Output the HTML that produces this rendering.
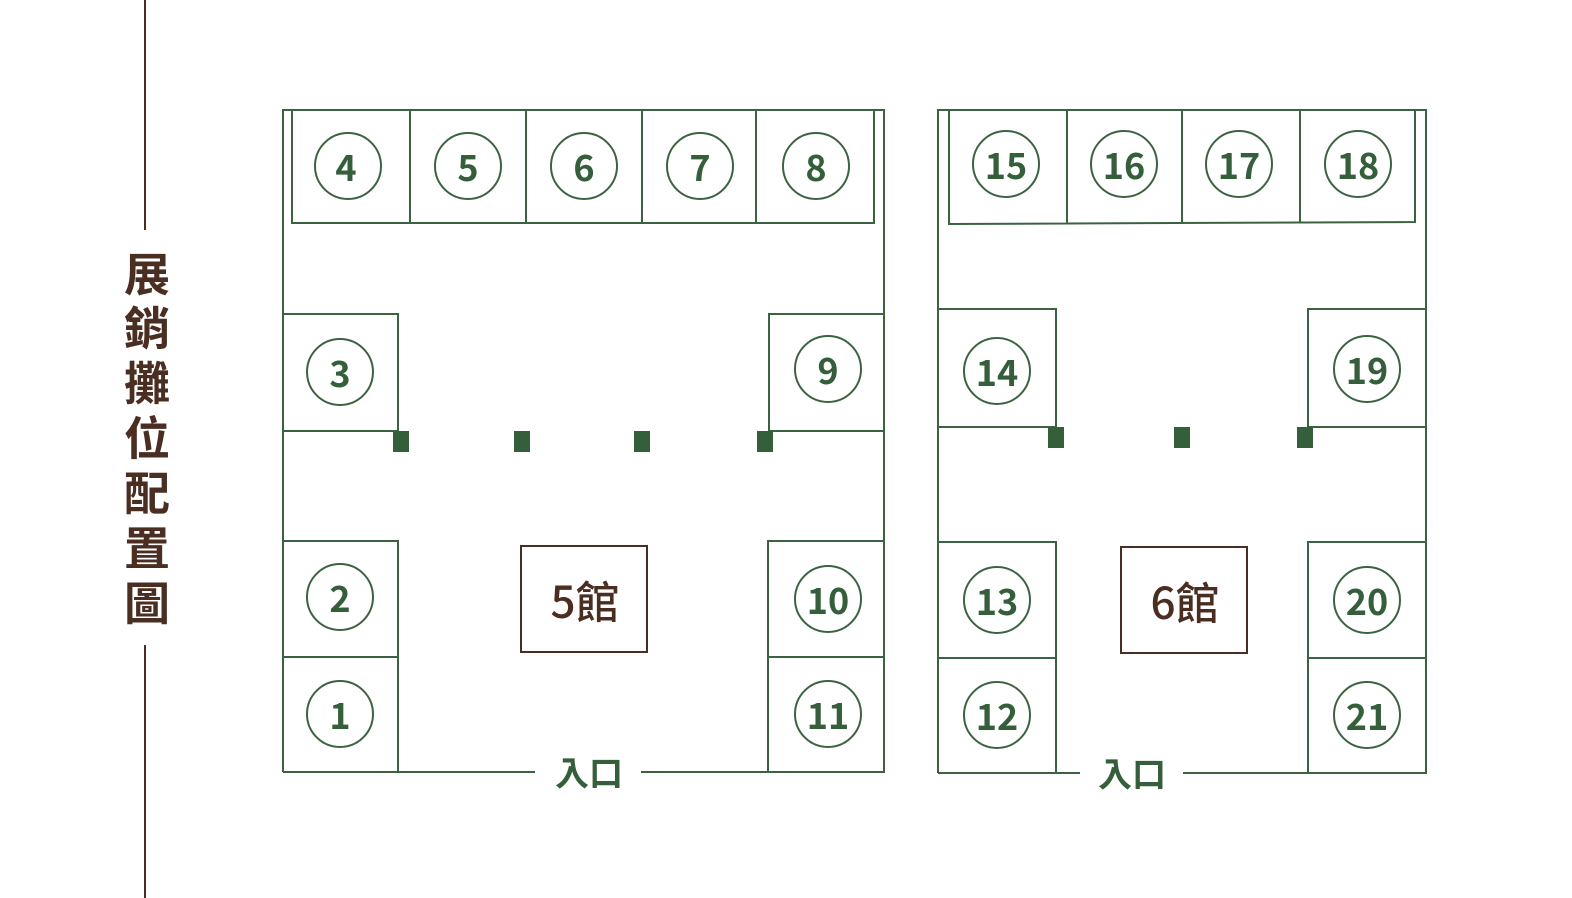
<!DOCTYPE html>
<html><head><meta charset="utf-8"><style>
html,body{margin:0;padding:0;background:#fff;overflow:hidden}
svg{display:block}
.l{stroke:#3b6341;stroke-width:2;fill:none}
.c{stroke:#3b6341;stroke-width:2;fill:#fff}
.n{font-family:"Noto Sans CJK TC","Liberation Sans",sans-serif;font-weight:bold;font-size:36px;fill:#355e3a;text-anchor:middle;dominant-baseline:central}
.t{font-family:"Noto Sans CJK TC","WenQuanYi Zen Hei",sans-serif;font-weight:bold;font-size:46px;fill:#4a2e22;text-anchor:middle;dominant-baseline:central}
.h{font-family:"Noto Sans CJK TC","Liberation Sans",sans-serif;font-size:44px;font-weight:500;fill:#4a2e22;text-anchor:middle;dominant-baseline:central}
.e{font-family:"Noto Sans CJK TC","WenQuanYi Zen Hei",sans-serif;font-weight:bold;font-size:34px;fill:#355e3a;text-anchor:middle;dominant-baseline:central}
.sq{fill:#355e3a}
</style></head><body>
<svg width="1572" height="898" viewBox="0 0 1572 898">
<line x1="145" y1="0" x2="145" y2="230" stroke="#4a2e22" stroke-width="2"/>
<line x1="145" y1="645" x2="145" y2="898" stroke="#4a2e22" stroke-width="2"/>
<text class="t" x="147" y="272">展</text>
<text class="t" x="147" y="326">銷</text>
<text class="t" x="147" y="381">攤</text>
<text class="t" x="147" y="436">位</text>
<text class="t" x="147" y="491">配</text>
<text class="t" x="147" y="546">置</text>
<text class="t" x="147" y="601">圖</text>

<!-- Hall 5 -->
<path class="l" d="M283 772 V110 H884 V772 H768 M283 772 H535 M641 772 H768"/>
<rect class="l" x="292" y="110" width="582" height="113"/>
<path class="l" d="M410 110V223 M526 110V223 M642 110V223 M756 110V223"/>
<path class="l" d="M283 314 H398 V431 H283 M884 314 H769 V431 H884"/>
<path class="l" d="M283 541 H398 V772 M283 657 H398 M884 541 H768 V772 M884 657 H768"/>
<rect class="sq" x="393" y="431" width="16" height="21"/>
<rect class="sq" x="514" y="431" width="16" height="21"/>
<rect class="sq" x="634" y="431" width="16" height="21"/>
<rect class="sq" x="757" y="431" width="16" height="21"/>
<g>
<circle class="c" cx="348" cy="166" r="33"/><text class="n" x="346" y="166">4</text>
<circle class="c" cx="468" cy="166" r="33"/><text class="n" x="468" y="166">5</text>
<circle class="c" cx="584" cy="166" r="33"/><text class="n" x="584" y="166">6</text>
<circle class="c" cx="700" cy="166" r="33"/><text class="n" x="700" y="166">7</text>
<circle class="c" cx="816" cy="166" r="33"/><text class="n" x="816" y="166">8</text>
<circle class="c" cx="340" cy="372" r="33"/><text class="n" x="340" y="372">3</text>
<circle class="c" cx="828" cy="369" r="33"/><text class="n" x="828" y="369">9</text>
<circle class="c" cx="340" cy="597" r="33"/><text class="n" x="340" y="597">2</text>
<circle class="c" cx="340" cy="714" r="33"/><text class="n" x="340" y="714">1</text>
<circle class="c" cx="828" cy="599" r="33"/><text class="n" x="828" y="599">10</text>
<circle class="c" cx="828" cy="714" r="33"/><text class="n" x="828" y="714">11</text>
</g>
<rect x="521" y="546" width="126" height="106" fill="none" stroke="#4a2e22" stroke-width="2"/>
<text class="h" x="585" y="599">5館</text>
<text class="e" x="589" y="771">入口</text>

<!-- Hall 6 -->
<path class="l" d="M938 773 V110 H1426 V773 H1308 M938 773 H1080 M1183 773 H1308"/>
<path class="l" d="M949 110 V224 L1415 222 V110 M1067 110V224 M1182 110V223 M1300 110V223"/>
<path class="l" d="M938 309 H1056 V427 H938 M1426 309 H1308 V427 H1426"/>
<path class="l" d="M938 542 H1056 V773 M938 658 H1056 M1426 542 H1308 V773 M1426 658 H1308"/>
<rect class="sq" x="1048" y="427" width="16" height="21"/>
<rect class="sq" x="1174" y="427" width="16" height="21"/>
<rect class="sq" x="1297" y="427" width="16" height="21"/>
<g>
<circle class="c" cx="1006" cy="164" r="33"/><text class="n" x="1006" y="164">15</text>
<circle class="c" cx="1124" cy="164" r="33"/><text class="n" x="1124" y="164">16</text>
<circle class="c" cx="1239" cy="164" r="33"/><text class="n" x="1239" y="164">17</text>
<circle class="c" cx="1358" cy="164" r="33"/><text class="n" x="1358" y="164">18</text>
<circle class="c" cx="997" cy="371" r="33"/><text class="n" x="997" y="371">14</text>
<circle class="c" cx="1367" cy="369" r="33"/><text class="n" x="1367" y="369">19</text>
<circle class="c" cx="997" cy="600" r="33"/><text class="n" x="997" y="600">13</text>
<circle class="c" cx="997" cy="715" r="33"/><text class="n" x="997" y="715">12</text>
<circle class="c" cx="1367" cy="600" r="33"/><text class="n" x="1367" y="600">20</text>
<circle class="c" cx="1367" cy="715" r="33"/><text class="n" x="1367" y="715">21</text>
</g>
<rect x="1121" y="547" width="126" height="106" fill="none" stroke="#4a2e22" stroke-width="2"/>
<text class="h" x="1185" y="600">6館</text>
<text class="e" x="1132" y="772">入口</text>
</svg>
</body></html>
